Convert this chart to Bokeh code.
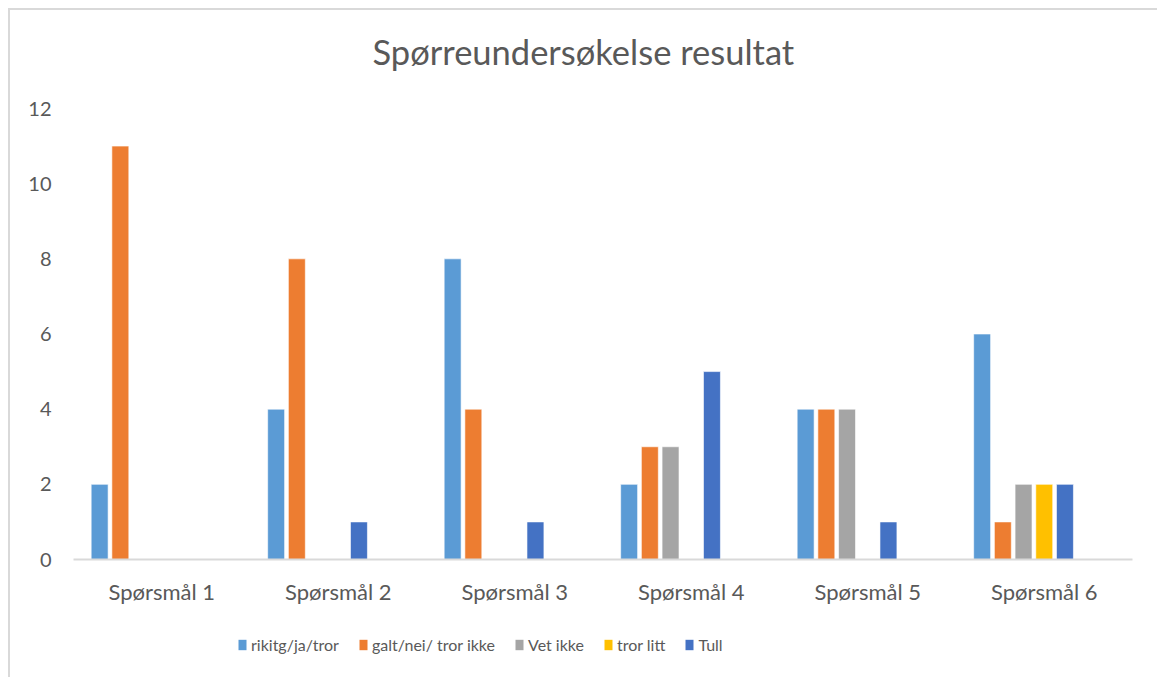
from bokeh.plotting import figure
from bokeh.models import FactorRange, Legend, LegendItem, ColumnDataSource
from bokeh.layouts import column
from bokeh.transform import dodge
from bokeh.embed import file_html
from bokeh.resources import INLINE

categories = ["Spørsmål 1", "Spørsmål 2", "Spørsmål 3", "Spørsmål 4", "Spørsmål 5", "Spørsmål 6"]
series_names = ["rikitg/ja/tror", "galt/nei/ tror ikke", "Vet ikke", "tror litt", "Tull"]
rikitg = [2, 4, 8, 2, 4, 6]
galt = [11, 8, 4, 3, 4, 1]
vet_ikke = [0, 0, 0, 3, 4, 2]
tror_litt = [0, 0, 0, 0, 0, 2]
tull = [0, 1, 1, 5, 1, 2]
y_ticks = [0, 2, 4, 6, 8, 10, 12]
title_text = "Spørreundersøkelse resultat"

colors = ["#5B9BD5", "#ED7D31", "#A5A5A5", "#FFC000", "#4472C4"]
FONT = "Lato"
TXT = "#595959"


def strip(height, **kw):
    f = figure(width=1147, height=height, output_backend="svg", toolbar_location=None,
               x_range=(0, 1), y_range=(0, 1), x_axis_type=None, y_axis_type=None, **kw)
    f.xgrid.visible = False
    f.ygrid.visible = False
    f.outline_line_color = None
    return f


# title strip
tf = strip(86, min_border_top=63, min_border_bottom=0, min_border_left=63, min_border_right=25)
tf.title.text = title_text
tf.title.text_font = FONT
tf.title.text_font_size = "34.5px"
tf.title.text_font_style = "normal"
tf.title.text_color = TXT
tf.title.align = "left"
tf.title.offset = 299
tf.title.standoff = 4

# main chart
source = ColumnDataSource(dict(cat=categories, s0=rikitg, s1=galt, s2=vet_ikke, s3=tror_litt, s4=tull))

p = figure(x_range=FactorRange(*categories), y_range=(0, 12),
           width=1147, height=514, output_backend="svg", toolbar_location=None,
           min_border_left=63, min_border_right=25, min_border_top=12, min_border_bottom=51)

pitch = 0.1173
bw = 0.096
for i, name in enumerate(series_names):
    p.vbar(x=dodge("cat", (i - 3) * pitch, range=p.x_range), top="s%d" % i, width=bw,
           source=source, fill_color=colors[i], line_color="white", line_alpha=0.6, line_width=1)

p.xgrid.visible = False
p.ygrid.visible = False
p.outline_line_color = None

p.yaxis.ticker = y_ticks
p.yaxis.axis_line_color = None
p.yaxis.major_tick_line_color = None
p.yaxis.minor_tick_line_color = None
p.yaxis.major_label_standoff = 16
p.yaxis.major_label_text_font = FONT
p.yaxis.major_label_text_font_size = "20px"
p.yaxis.major_label_text_color = TXT

p.xaxis.axis_line_color = "#D9D9D9"
p.xaxis.axis_line_width = 2
p.xaxis.major_tick_line_color = None
p.xaxis.major_tick_out = 0
p.xaxis.major_tick_in = 0
p.xaxis.major_label_standoff = 18
p.xaxis.major_label_text_font = FONT
p.xaxis.major_label_text_font_size = "22px"
p.xaxis.major_label_text_color = TXT

# legend strip below the chart
lf = strip(67, min_border=0)
items = []
for i, name in enumerate(series_names):
    # zero-size carrier glyph: only its colour is used, for the legend swatch
    r = lf.vbar(x=[0], top=[0], width=0, fill_color=colors[i], line_alpha=0)
    items.append(LegendItem(label=name, renderers=[r]))

legend = Legend(items=items, orientation="horizontal", location=(164, 23),
                glyph_width=10, glyph_height=13, label_standoff=4, spacing=19,
                padding=0, margin=0, border_line_color=None, background_fill_alpha=0,
                label_text_font=FONT, label_text_font_size="16px", label_text_color=TXT)
lf.add_layout(legend, "center")

layout = column(tf, p, lf, spacing=0,
                styles={"margin": "8px 0 0 8px", "border-top": "2px solid #D9D9D9",
                        "border-left": "2px solid #D9D9D9"})

open("out.html", "w").write(file_html(layout, INLINE))
